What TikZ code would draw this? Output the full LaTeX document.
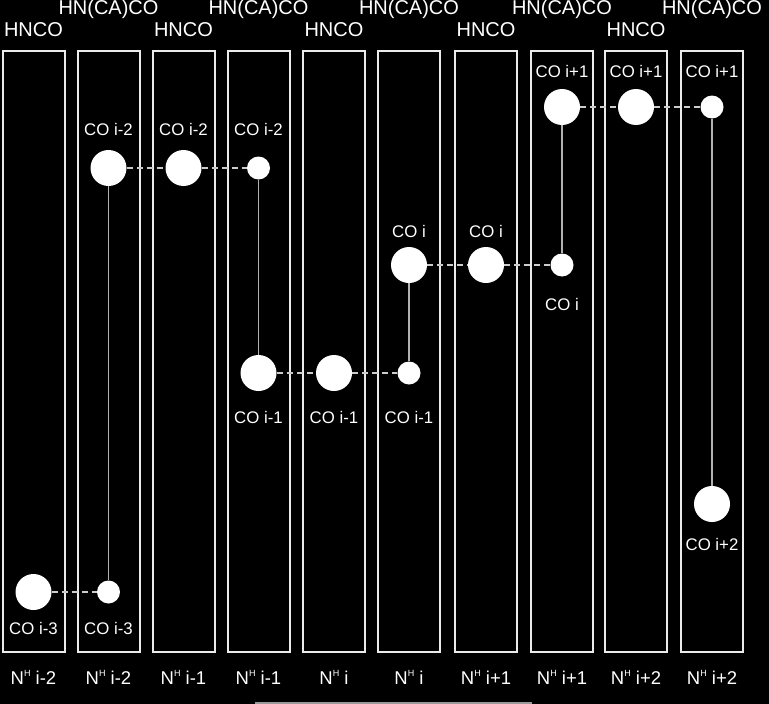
\documentclass[tikz,border=0pt]{standalone}
\usepackage{fontspec}
\setmainfont{Liberation Sans}
\usetikzlibrary{positioning}

\newcommand{\NH}{N\raisebox{8pt}{\fontsize{9}{9}\selectfont H}}

\begin{document}
\begin{tikzpicture}[x=1pt, y=-1pt,
    strip/.style={draw=white!92!black, line width=2pt, minimum width=62pt, minimum height=601pt, inner sep=0pt},
    big/.style={circle, fill=white, minimum size=36pt, inner sep=0pt},
    small/.style={circle, fill=white, minimum size=23pt, inner sep=0pt},
    toplab/.style={text=white, font=\fontsize{20}{23}\selectfont, inner sep=0pt, anchor=base},
    colab/.style={text=white, font=\fontsize{16.8}{19}\selectfont, inner sep=0pt, anchor=base},
    nhlab/.style={text=white, font=\fontsize{18.5}{21}\selectfont, inner sep=0pt},
    link/.style={draw=white!80!black, line width=1.6pt, dash pattern=on 6pt off 4pt},
    tie/.style={draw=white!70!black, line width=1.3pt},
    ]

    % background
    \fill[black] (0,0) rectangle (769,704);
    \useasboundingbox (0,0) rectangle (769,704);

    % the ten strips
    \node [strip] (s1) at (33.5,351.5) {};
    \node [strip] (s2) at (108.5,351.5) {};
    \node [strip] (s3) at (183.5,351.5) {};
    \node [strip] (s4) at (258.5,351.5) {};
    \node [strip] (s5) at (334,351.5) {};
    \node [strip] (s6) at (409,351.5) {};
    \node [strip] (s7) at (486,351.5) {};
    \node [strip] (s8) at (562,351.5) {};
    \node [strip] (s9) at (636,351.5) {};
    \node [strip] (s10) at (712,351.5) {};

    % experiment names on top
    \node [toplab, above=14pt of s1.north, anchor=base] (t1) {HNCO};
    \node [toplab, above=35pt of s2.north, anchor=base] (t2) {HN(CA)CO};
    \node [toplab, above=14pt of s3.north, anchor=base] (t3) {HNCO};
    \node [toplab, above=35pt of s4.north, anchor=base] (t4) {HN(CA)CO};
    \node [toplab, above=14pt of s5.north, anchor=base] (t5) {HNCO};
    \node [toplab, above=35pt of s6.north, anchor=base] (t6) {HN(CA)CO};
    \node [toplab, above=14pt of s7.north, anchor=base] (t7) {HNCO};
    \node [toplab, above=35pt of s8.north, anchor=base] (t8) {HN(CA)CO};
    \node [toplab, above=14pt of s9.north, anchor=base] (t9) {HNCO};
    \node [toplab, above=35pt of s10.north, anchor=base] (t10) {HN(CA)CO};

    % amide labels below
    \node [nhlab, below=31pt of s1.south, anchor=base] (b1) {\NH{} i-2};
    \node [nhlab, below=31pt of s2.south, anchor=base] (b2) {\NH{} i-2};
    \node [nhlab, below=31pt of s3.south, anchor=base] (b3) {\NH{} i-1};
    \node [nhlab, below=31pt of s4.south, anchor=base] (b4) {\NH{} i-1};
    \node [nhlab, below=31pt of s5.south, anchor=base] (b5) {\NH{} i};
    \node [nhlab, below=31pt of s6.south, anchor=base] (b6) {\NH{} i};
    \node [nhlab, below=31pt of s7.south, anchor=base] (b7) {\NH{} i+1};
    \node [nhlab, below=31pt of s8.south, anchor=base] (b8) {\NH{} i+1};
    \node [nhlab, below=31pt of s9.south, anchor=base] (b9) {\NH{} i+2};
    \node [nhlab, below=31pt of s10.south, anchor=base] (b10) {\NH{} i+2};

    % CO i+1
    \node [big] (ip1s8) at (562,107) {};
    \node [big] (ip1s9) at (636,107) {};
    \node [small] (ip1s10) at (712,107) {};
    \node [colab] at (562,77) {CO i+1};
    \node [colab] at (636,77) {CO i+1};
    \node [colab] at (712,77) {CO i+1};

    % CO i-2
    \node [big] (im2s2) at (108.5,168) {};
    \node [big] (im2s3) at (183.5,168) {};
    \node [small] (im2s4) at (258.5,168) {};
    \node [colab] at (108.5,135) {CO i-2};
    \node [colab] at (183.5,135) {CO i-2};
    \node [colab] at (258.5,135) {CO i-2};

    % CO i
    \node [big] (i0s6) at (409,265) {};
    \node [big] (i0s7) at (486,265) {};
    \node [small] (i0s8) at (562,265) {};
    \node [colab] at (409,237) {CO i};
    \node [colab] at (486,237) {CO i};
    \node [colab] at (562,310) {CO i};

    % CO i-1
    \node [big] (im1s4) at (258.5,373) {};
    \node [big] (im1s5) at (334,373) {};
    \node [small] (im1s6) at (409,373) {};
    \node [colab] at (258.5,423) {CO i-1};
    \node [colab] at (334,423) {CO i-1};
    \node [colab] at (409,423) {CO i-1};

    % CO i+2
    \node [big] (ip2s10) at (712,504) {};
    \node [colab] at (712,550) {CO i+2};

    % CO i-3
    \node [big] (im3s1) at (33.5,592) {};
    \node [small] (im3s2) at (108.5,592) {};
    \node [colab] at (33.5,634) {CO i-3};
    \node [colab] at (108.5,634) {CO i-3};

    % same carbonyl across strips
    \draw [link] (ip1s8) -- (ip1s9) -- (ip1s10);
    \draw [link] (im2s2) -- (im2s3) -- (im2s4);
    \draw [link] (i0s6) -- (i0s7) -- (i0s8);
    \draw [link] (im1s4) -- (im1s5) -- (im1s6);
    \draw [link] (im3s1) -- (im3s2);

    % within one strip
    \draw [tie] (im2s2) -- (im3s2);
    \draw [tie] (im2s4) -- (im1s4);
    \draw [tie] (i0s6) -- (im1s6);
    \draw [tie] (ip1s8) -- (i0s8);
    \draw [tie] (ip1s10) -- (ip2s10);

    \draw [white!60!black, line width=1.5pt] (255,703) -- (532,703);
\end{tikzpicture}
\end{document}
